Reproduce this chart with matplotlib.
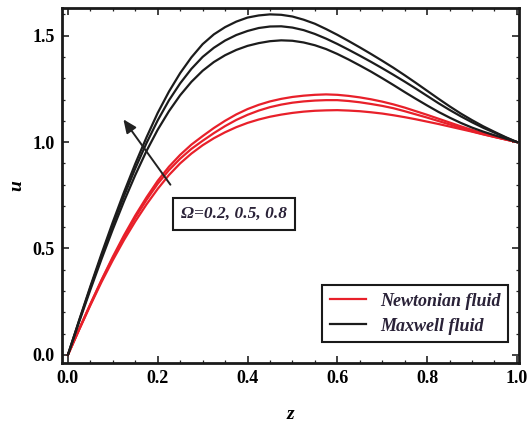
import numpy as np
import matplotlib
matplotlib.use("Agg")
import matplotlib.pyplot as plt
from matplotlib.ticker import MultipleLocator
from matplotlib.lines import Line2D

plt.rcParams['font.family'] = ['Liberation Serif', 'DejaVu Serif']

# axial coordinate, step 0.025
z = np.round(np.arange(41) * 0.025, 3)

# Maxwell fluid velocity (Omega = 0.8, 0.5, 0.2)
u_max_a = [0.0, 0.163, 0.322, 0.476, 0.624, 0.765, 0.898, 1.022, 1.137, 1.237, 1.324,
           1.398, 1.460, 1.506, 1.540, 1.566, 1.585, 1.595, 1.600, 1.598, 1.590, 1.575,
           1.556, 1.531, 1.504, 1.475, 1.445, 1.414, 1.382, 1.349, 1.314, 1.278, 1.241,
           1.204, 1.168, 1.134, 1.103, 1.074, 1.048, 1.023, 1.0]
u_max_b = [0.0, 0.160, 0.316, 0.466, 0.610, 0.747, 0.876, 0.995, 1.102, 1.196, 1.276,
           1.344, 1.400, 1.443, 1.477, 1.503, 1.522, 1.536, 1.543, 1.544, 1.538, 1.526,
           1.508, 1.486, 1.461, 1.434, 1.406, 1.377, 1.347, 1.316, 1.284, 1.251, 1.217,
           1.183, 1.151, 1.121, 1.093, 1.067, 1.044, 1.021, 1.0]
u_max_c = [0.0, 0.155, 0.306, 0.451, 0.590, 0.722, 0.845, 0.958, 1.058, 1.145, 1.220,
           1.283, 1.335, 1.376, 1.408, 1.433, 1.452, 1.465, 1.474, 1.478, 1.476, 1.468,
           1.455, 1.437, 1.414, 1.388, 1.360, 1.331, 1.300, 1.268, 1.235, 1.203, 1.172,
           1.142, 1.115, 1.090, 1.068, 1.049, 1.032, 1.016, 1.0]

# Newtonian fluid velocity (Omega = 0.8, 0.5, 0.2)
u_newt_a = [0.0, 0.121, 0.239, 0.353, 0.461, 0.562, 0.655, 0.740, 0.818, 0.884, 0.940,
            0.988, 1.028, 1.066, 1.100, 1.130, 1.155, 1.175, 1.191, 1.203, 1.212, 1.218,
            1.222, 1.224, 1.222, 1.217, 1.210, 1.201, 1.190, 1.177, 1.162, 1.145, 1.128,
            1.110, 1.092, 1.074, 1.057, 1.041, 1.026, 1.013, 1.0]
u_newt_b = [0.0, 0.120, 0.237, 0.350, 0.455, 0.554, 0.645, 0.728, 0.804, 0.868, 0.922,
            0.968, 1.006, 1.042, 1.075, 1.104, 1.128, 1.148, 1.164, 1.176, 1.185, 1.191,
            1.195, 1.197, 1.197, 1.193, 1.187, 1.179, 1.170, 1.159, 1.145, 1.130, 1.115,
            1.099, 1.083, 1.067, 1.051, 1.037, 1.024, 1.012, 1.0]
u_newt_c = [0.0, 0.118, 0.233, 0.343, 0.445, 0.540, 0.627, 0.707, 0.780, 0.845, 0.900,
            0.946, 0.985, 1.018, 1.046, 1.070, 1.090, 1.106, 1.119, 1.129, 1.137, 1.143,
            1.147, 1.149, 1.150, 1.148, 1.145, 1.140, 1.134, 1.126, 1.117, 1.107, 1.096,
            1.085, 1.073, 1.061, 1.049, 1.036, 1.024, 1.012, 1.0]

omega_label = 'Ω=0.2, 0.5, 0.8'
legend_labels = ['Newtonian fluid', 'Maxwell fluid']

red = '#e8202a'
black = '#1c1c1c'

fig = plt.figure(figsize=(5.29, 4.32), dpi=100)
ax = fig.add_axes([0.117, 0.160, 0.864, 0.821])

for u in (u_newt_a, u_newt_b, u_newt_c):
    ax.plot(z, u, color=red, lw=1.6)
for u in (u_max_a, u_max_b, u_max_c):
    ax.plot(z, u, color=black, lw=1.6)

ax.set_xlim(-0.0134, 1.0045)
ax.set_ylim(-0.0376, 1.629)

ax.xaxis.set_major_locator(MultipleLocator(0.2))
ax.xaxis.set_minor_locator(MultipleLocator(0.05))
ax.yaxis.set_major_locator(MultipleLocator(0.5))
ax.yaxis.set_minor_locator(MultipleLocator(0.1))
ax.xaxis.set_major_formatter(lambda v, p: f'{v:.1f}')
ax.yaxis.set_major_formatter(lambda v, p: f'{v:.1f}')
ax.tick_params(which='both', direction='in', top=True, right=True, color='#222222')
ax.tick_params(which='major', length=5, width=1.2, labelsize=13, pad=5)
ax.tick_params(which='minor', length=2.5, width=0.9)
for lbl in ax.get_xticklabels() + ax.get_yticklabels():
    lbl.set_fontweight('bold')
for side in ax.spines.values():
    side.set_linewidth(2.0)
    side.set_color('#1a1a1a')

ax.set_xlabel('z', fontsize=14, fontstyle='italic', fontweight='bold', labelpad=14)
ax.set_ylabel('u', fontsize=14, fontstyle='italic', fontweight='bold', labelpad=5)

# parameter label and arrow
ax.text(0.376, 0.42, omega_label, transform=ax.transAxes, ha='center', va='center',
        fontsize=12.5, fontstyle='italic', fontweight='bold', color='#2a2238',
        bbox=dict(boxstyle='square,pad=0.45', fc='white', ec='#1a1a1a', lw=1.5))
ax.annotate('', xy=(0.131, 0.693), xytext=(0.241, 0.496),
            xycoords='axes fraction', textcoords='axes fraction',
            arrowprops=dict(arrowstyle='-|>,head_length=0.8,head_width=0.35',
                            color='#222222', lw=1.4))

handles = [Line2D([], [], color=red, lw=1.6), Line2D([], [], color=black, lw=1.6)]
leg = ax.legend(handles, legend_labels, loc='lower right', bbox_to_anchor=(0.976, 0.059),
                borderaxespad=0, fancybox=False, framealpha=1, handlelength=2.0,
                labelspacing=0.45,
                prop=dict(family='Liberation Serif', style='italic', weight='bold', size=13))
leg.get_frame().set_edgecolor('#1a1a1a')
leg.get_frame().set_linewidth(1.5)
for t in leg.get_texts():
    t.set_color('#2a2238')

fig.savefig('out.png', dpi=100)
